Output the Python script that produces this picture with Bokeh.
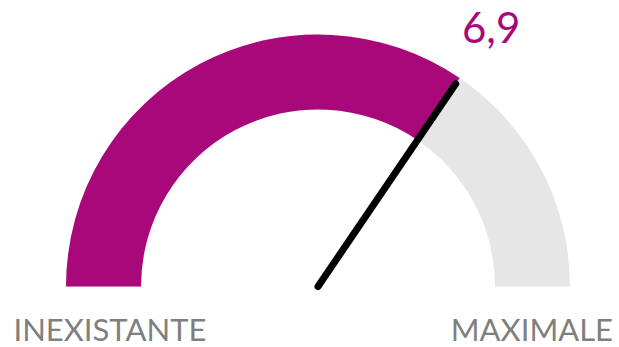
import math
from bokeh.plotting import figure
from bokeh.models import Range1d
from bokeh.core.properties import value as V
from bokeh.embed import file_html
from bokeh.resources import INLINE

# data
gauge_value = [6.9]
gauge_min = [0]
gauge_max = [10]
value_label = ["6,9"]
end_labels = ["INEXISTANTE", "MAXIMALE"]

PURPLE = "#A8087A"
GREY = "#E6E6E6"
TEXT_GREY = "#7F7F7F"

p = figure(width=619, height=347, output_backend="svg", toolbar_location=None,
           x_range=Range1d(-317.5, 301.5), y_range=Range1d(-61, 286),
           min_border=0, border_fill_color="white", outline_line_color=None)
p.axis.visible = False
p.grid.visible = False

R_OUT, R_IN = 252, 177
frac = (gauge_value[0] - gauge_min[0]) / (gauge_max[0] - gauge_min[0])
ang = math.pi * (1 - frac)

p.annular_wedge(x=[0], y=[0], inner_radius=R_IN, outer_radius=R_OUT,
                start_angle=[0], end_angle=[math.pi], color=GREY, line_color=None)
p.annular_wedge(x=[0], y=[0], inner_radius=R_IN, outer_radius=R_OUT,
                start_angle=[ang], end_angle=[math.pi], color=PURPLE, line_color=None)

L = 245
p.line(x=[0, L * math.cos(ang)], y=[0, L * math.sin(ang)], line_color="black",
       line_width=7, line_cap="round")

RL = 308
p.text(x=[RL * math.cos(ang)], y=[RL * math.sin(ang)], text=value_label,
       text_font=V("Lato"), text_font_size="42px", text_color=PURPLE,
       text_align="center", text_baseline="middle", y_offset=-4)

p.text(x=[-304.5], y=[-23], text=[end_labels[0]], text_font=V("Lato"),
       text_font_size="31px", text_color=TEXT_GREY, text_align="left",
       text_baseline="top")
p.text(x=[295], y=[-23], text=[end_labels[1]], text_font=V("Lato"),
       text_font_size="31px", text_color=TEXT_GREY, text_align="right",
       text_baseline="top")

open("out.html", "w").write(file_html(p, INLINE))
